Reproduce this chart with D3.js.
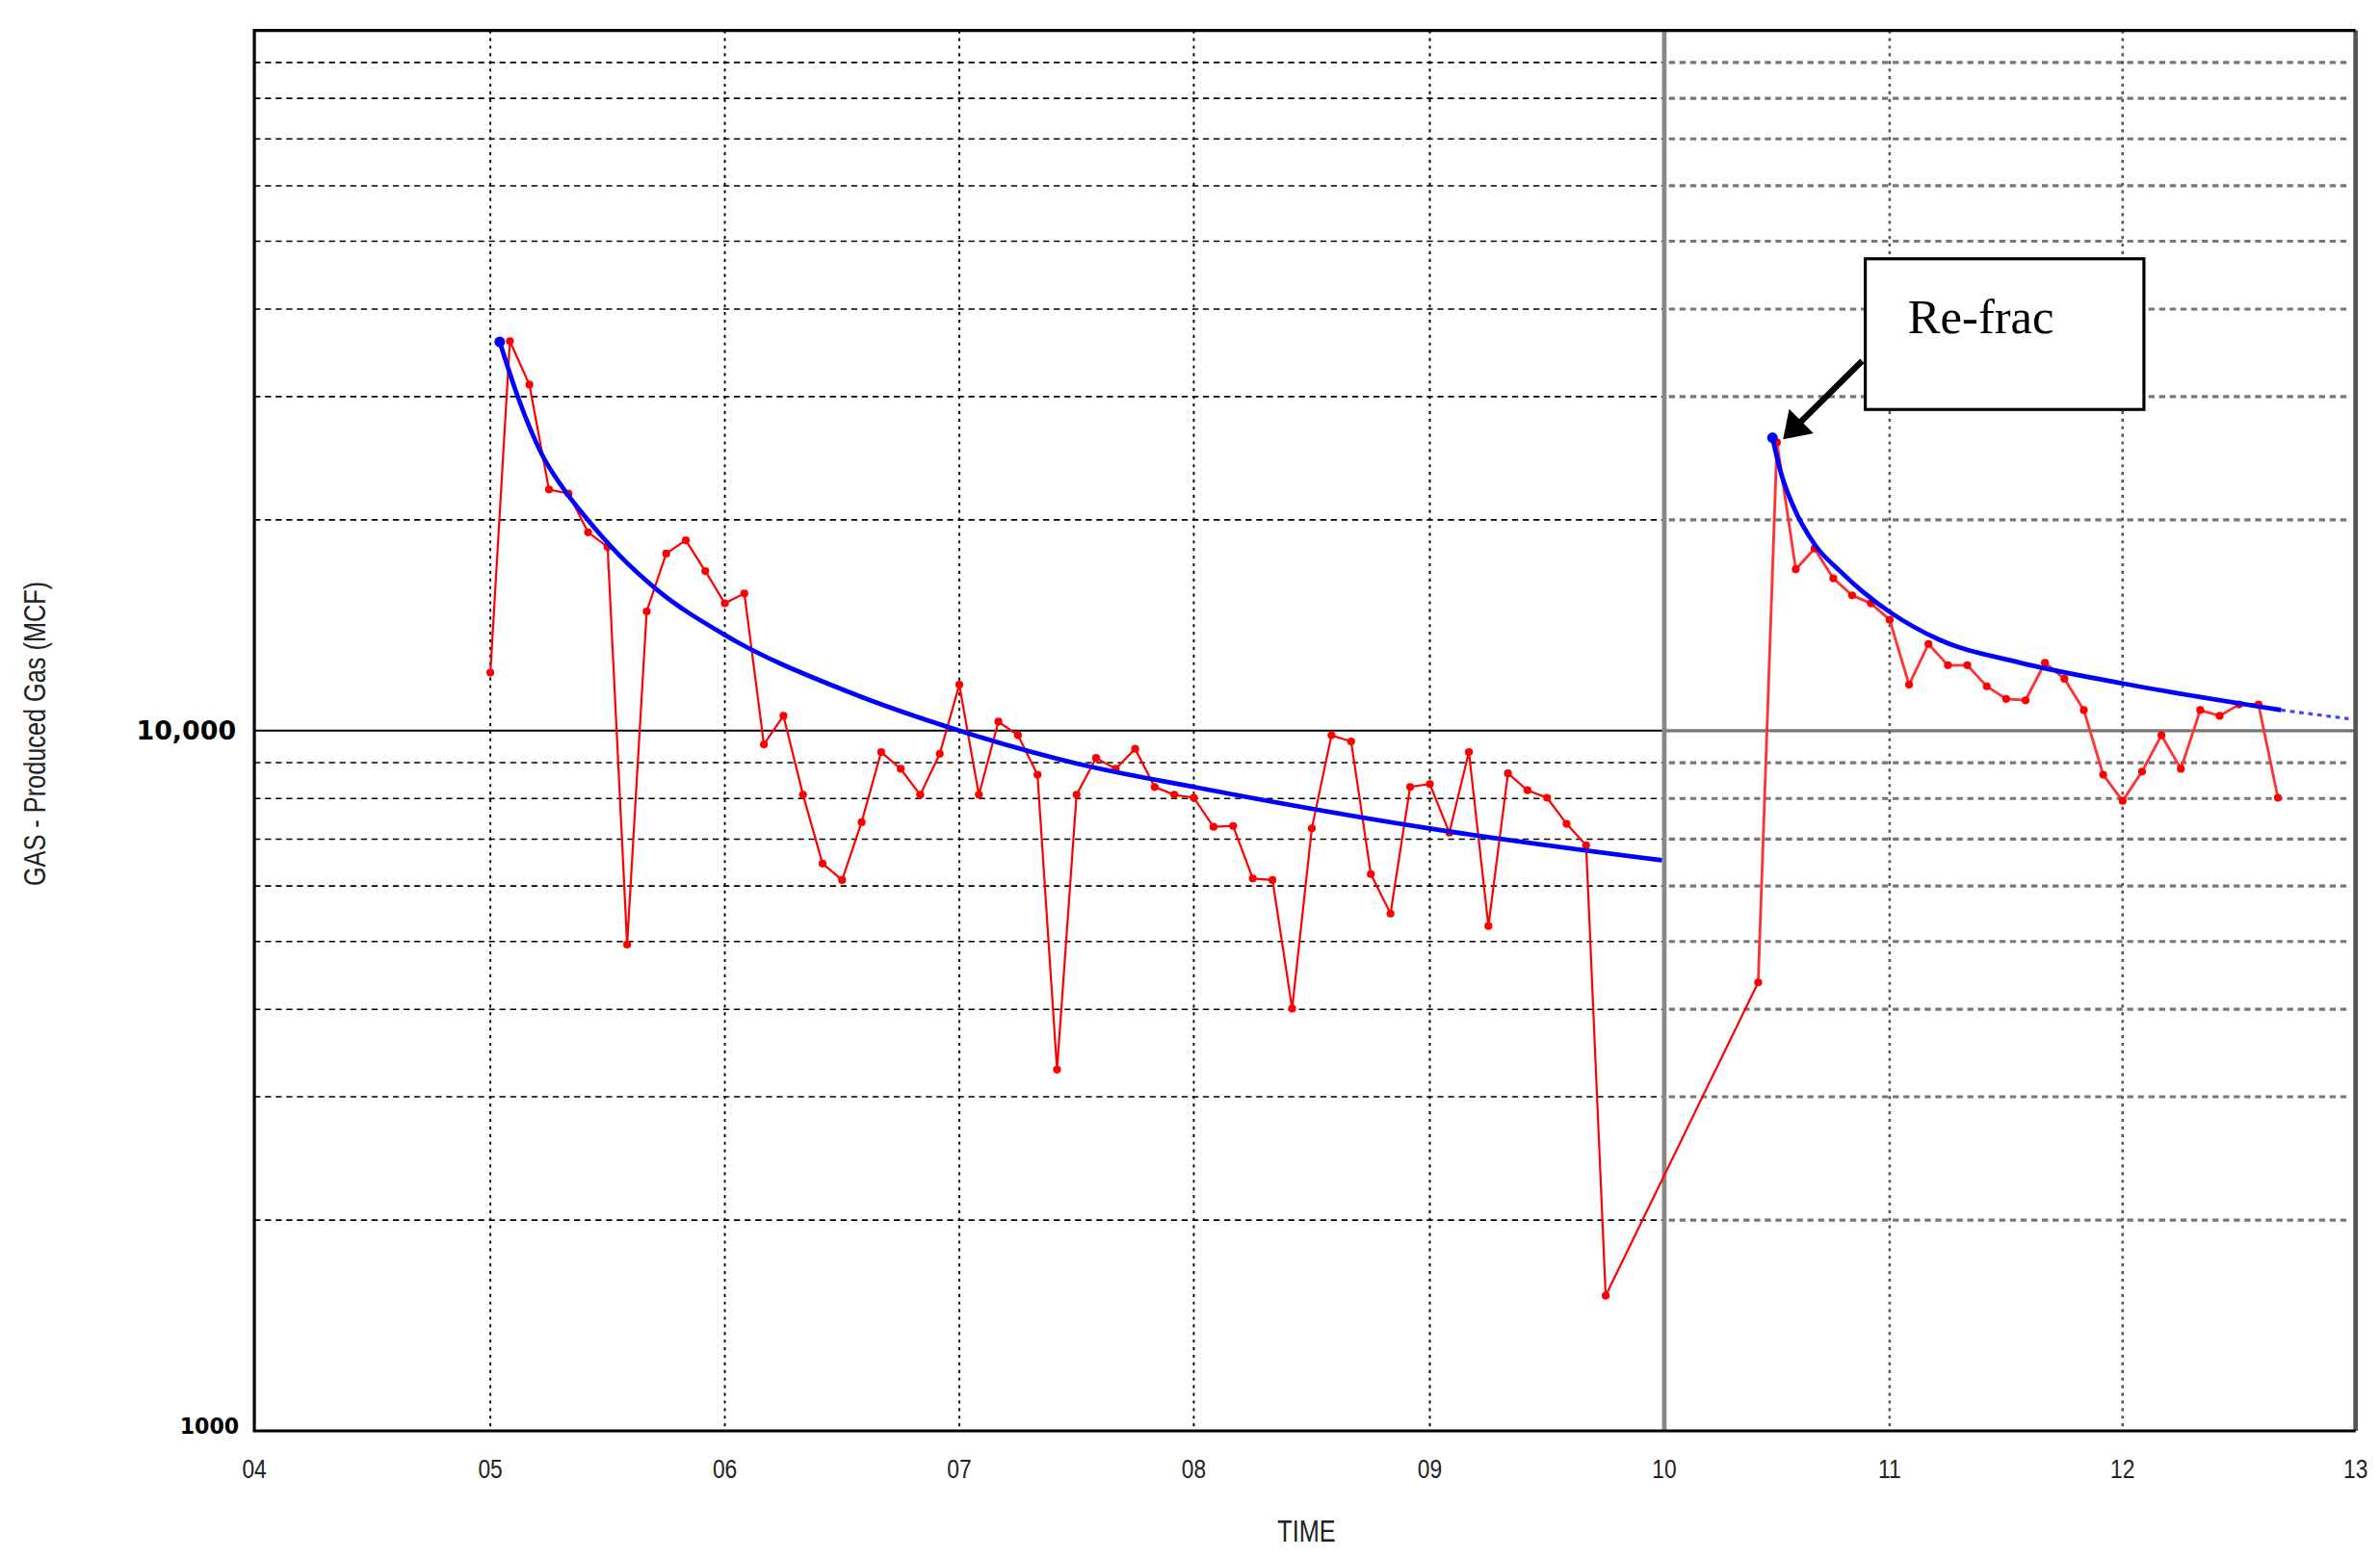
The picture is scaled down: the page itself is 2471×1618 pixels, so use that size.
<!DOCTYPE html>
<html><head><meta charset="utf-8">
<script src="https://cdn.jsdelivr.net/npm/d3@7"></script>
<style>body{margin:0;background:#fff}svg{display:block}</style>
</head><body>
<svg id="chart" width="2471" height="1618" viewBox="0 0 1563 1023.5" font-family="Liberation Sans, Arial, sans-serif"></svg>
<script>
// monthly gas production, before the re-frac
var gasDatesA = ['2005-01','2005-02','2005-03','2005-04','2005-05','2005-06','2005-07','2005-08','2005-09','2005-10','2005-11','2005-12',
  '2006-01','2006-02','2006-03','2006-04','2006-05','2006-06','2006-07','2006-08','2006-09','2006-10','2006-11','2006-12',
  '2007-01','2007-02','2007-03','2007-04','2007-05','2007-06','2007-07','2007-08','2007-09','2007-10','2007-11','2007-12',
  '2008-01','2008-02','2008-03','2008-04','2008-05','2008-06','2008-07','2008-08','2008-09','2008-10','2008-11','2008-12',
  '2009-01','2009-02','2009-03','2009-04','2009-05','2009-06','2009-07','2009-08','2009-09','2009-10'];
var gasValuesA = [12100,36000,31200,22100,21800,19200,18300,4950,14800,17900,18700,16900,
  15200,15700,9560,10500,8100,6460,6120,7400,9320,8820,8100,9270,
  11630,8100,10300,9850,8650,3280,8100,9140,8820,9420,8310,8100,
  8020,7290,7310,6150,6120,4010,7250,9850,9650,6240,5480,8310,
  8390,7150,9320,5260,8690,8220,8020,7360,6860,1560];
// after the re-frac
var gasDatesB = ['2010-06','2010-07','2010-08','2010-09','2010-10','2010-11','2010-12',
  '2011-01','2011-02','2011-03','2011-04','2011-05','2011-06','2011-07','2011-08','2011-09','2011-10','2011-11','2011-12',
  '2012-01','2012-02','2012-03','2012-04','2012-05','2012-06','2012-07','2012-08','2012-09'];
var gasValuesB = [4370,25800,17000,18200,16500,15600,15200,
  14400,11630,13300,12400,12400,11570,11100,11050,12500,11860,10700,8650,
  7940,8740,9850,8820,10700,10500,10900,10900,8020];
// decline curve fits
var fitYearsA = [2005.04,2005.12,2005.22,2005.31,2005.41,2005.55,2005.71,2006.0,2006.53,2007.0,2007.51,2008.0,2009.0,2009.99];
var fitValuesA = [35900,29800,24800,22200,20100,17800,15900,13700,11350,10000,8960,8310,7250,6530];
var fitYearsB = [2010.48,2010.52,2010.57,2010.67,2010.78,2010.88,2011.01,2011.21,2011.55,2012.0,2012.68];
var fitValuesB = [26200,23200,21000,18400,16900,15800,14700,13500,12530,11680,10700];
var forecastYears = [2012.68,2012.97];
var forecastValues = [10700,10400];

var yearTicks = [2004,2005,2006,2007,2008,2009,2010,2011,2012,2013];
var yearLabels = ['04','05','06','07','08','09','10','11','12','13'];
var minorValues = [2000,3000,4000,5000,6000,7000,8000,9000,20000,30000,40000,50000,60000,70000,80000,90000];

var svg = d3.select('#chart');
var x = d3.scaleLinear()
  .domain(yearTicks)
  .range([167,322,476,630,784,939,1093,1241,1394,1547]);
var y = d3.scaleLog().domain([1000,100000]).range([940,20]);

function toYear(s)
{
  var p = s.split('-');
  return +p[0] + (+p[1] - 1) / 12;
}
var ptsA = gasDatesA.map(function(d, i){ return [toYear(d), gasValuesA[i]]; });
var ptsB = gasDatesB.map(function(d, i){ return [toYear(d), gasValuesB[i]]; });

var line = d3.line().x(function(d){ return x(d[0]); }).y(function(d){ return y(d[1]); });
var curve = d3.line().curve(d3.curveMonotoneX)
  .x(function(d){ return x(d[0]); }).y(function(d){ return y(d[1]); });

// horizontal grid
minorValues.forEach(function(v)
{
  svg.append('line').attr('x1', x(2004)).attr('x2', x(2010)).attr('y1', y(v)).attr('y2', y(v))
    .attr('stroke', '#000').attr('stroke-width', 1).attr('stroke-dasharray', '4,3');
  svg.append('line').attr('x1', x(2010) + 3).attr('x2', x(2013) - 6).attr('y1', y(v)).attr('y2', y(v))
    .attr('stroke', '#777').attr('stroke-width', 2).attr('stroke-dasharray', '4,3');
});
svg.append('line').attr('x1', x(2004)).attr('x2', x(2010)).attr('y1', y(10000)).attr('y2', y(10000))
  .attr('stroke', '#000').attr('stroke-width', 1.2);
svg.append('line').attr('x1', x(2010)).attr('x2', x(2013)).attr('y1', y(10000)).attr('y2', y(10000))
  .attr('stroke', '#777').attr('stroke-width', 2);

// vertical grid
yearTicks.slice(1, -1).forEach(function(t)
{
  if( t == 2010 )
    return;
  svg.append('line').attr('x1', x(t)).attr('x2', x(t)).attr('y1', 20).attr('y2', 940)
    .attr('stroke', t > 2010 ? '#555' : '#000').attr('stroke-width', t > 2010 ? 1.6 : 1.2)
    .attr('stroke-dasharray', '2,3');
});
svg.append('line').attr('x1', x(2010)).attr('x2', x(2010)).attr('y1', 20).attr('y2', 940)
  .attr('stroke', '#888').attr('stroke-width', 3);
svg.append('line').attr('x1', x(2013)).attr('x2', x(2013)).attr('y1', 20).attr('y2', 940)
  .attr('stroke', '#555').attr('stroke-width', 3);

// frame
svg.append('path').attr('d', 'M' + x(2013) + ',20H' + x(2004) + 'V940H' + x(2013))
  .attr('fill', 'none').attr('stroke', '#000').attr('stroke-width', 2);

// axes labels
svg.selectAll('.xt').data(yearTicks).enter().append('text')
  .attr('text-anchor', 'middle').attr('font-size', 18).attr('fill', '#222')
  .attr('transform', function(d){ return 'translate(' + x(d) + ',971) scale(0.8,1)'; })
  .text(function(d, i){ return yearLabels[i]; });
svg.append('text').attr('text-anchor', 'middle')
  .attr('font-size', 20).attr('fill', '#222')
  .attr('transform', 'translate(858,1013) scale(0.8,1)').text('TIME');
svg.append('text').attr('transform', 'translate(30,482) rotate(-90) scale(0.8,1)')
  .attr('text-anchor', 'middle').attr('font-size', 20).attr('fill', '#222')
  .text('GAS - Produced Gas  (MCF)');
svg.append('text').attr('x', 155).attr('y', y(10000) + 6).attr('text-anchor', 'end')
  .attr('font-size', 17).attr('font-weight', 'bold').attr('font-family', 'DejaVu Sans, sans-serif')
  .text('10,000');
svg.append('text').attr('x', 157).attr('y', 942).attr('text-anchor', 'end')
  .attr('font-size', 14).attr('font-weight', 'bold').attr('font-family', 'DejaVu Sans, sans-serif')
  .text('1000');

// production data
svg.append('path').attr('d', line(ptsA.concat([ptsB[0]]))).attr('fill', 'none')
  .attr('stroke', '#f00').attr('stroke-width', 1.4);
svg.append('path').attr('d', line(ptsB)).attr('fill', 'none')
  .attr('stroke', '#f33').attr('stroke-width', 1.8);
svg.selectAll('.dot').data(ptsA.concat(ptsB)).enter().append('circle')
  .attr('cx', function(d){ return x(d[0]); }).attr('cy', function(d){ return y(d[1]); })
  .attr('r', 2.6).attr('fill', '#f00');

// fits
[[fitYearsA, fitValuesA], [fitYearsB, fitValuesB]].forEach(function(f)
{
  var pts = f[0].map(function(t, i){ return [t, f[1][i]]; });
  svg.append('path').attr('d', curve(pts)).attr('fill', 'none')
    .attr('stroke', '#00f').attr('stroke-width', 3);
  svg.append('circle').attr('cx', x(pts[0][0])).attr('cy', y(pts[0][1])).attr('r', 3.5).attr('fill', '#00f');
});
svg.append('path').attr('d', line(forecastYears.map(function(t, i){ return [t, forecastValues[i]]; })))
  .attr('fill', 'none').attr('stroke', '#44f').attr('stroke-width', 2).attr('stroke-dasharray', '3,3');

// annotation
svg.append('rect').attr('x', 1225).attr('y', 170).attr('width', 183).attr('height', 99)
  .attr('fill', '#fff').attr('stroke', '#000').attr('stroke-width', 2);
svg.append('text').attr('x', 1253).attr('y', 219).attr('font-size', 32)
  .attr('font-family', 'Liberation Serif, Times New Roman, serif').text('Re-frac');
var ax = x(toYear('2010-07')) + 4, ay = y(25800) - 2;
svg.append('line').attr('x1', 1223).attr('y1', 237).attr('x2', ax + 8).attr('y2', ay - 8)
  .attr('stroke', '#000').attr('stroke-width', 4);
svg.append('path').attr('d', 'M' + ax + ',' + ay + 'l4,-20l16,16z').attr('fill', '#000');
</script>
</body></html>
